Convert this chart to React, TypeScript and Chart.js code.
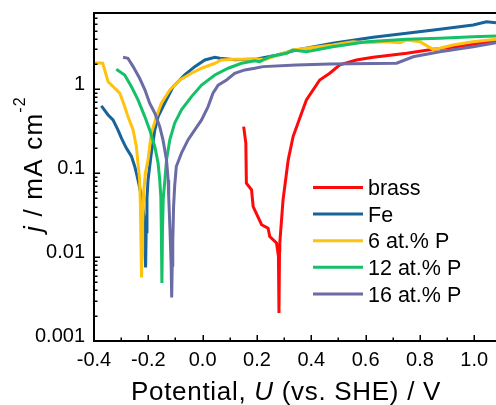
import React, { useEffect, useRef } from "react";
import { Chart, registerables } from "chart.js";

Chart.register(...registerables);

// ---- data (potential U in V vs. SHE, current density j in mA cm^-2) ----
const brassU = [0.151, 0.159, 0.161, 0.180, 0.186, 0.217, 0.241, 0.247, 0.272, 0.279, 0.281, 0.283, 0.284, 0.296, 0.315, 0.333, 0.364, 0.382, 0.431, 0.468, 0.505, 0.566, 0.628, 0.751, 0.849, 0.935, 1.08];
const brassJ = [0.359, 0.228, 0.076, 0.0633, 0.040, 0.0243, 0.0221, 0.0176, 0.0147, 0.0102, 0.00215, 0.012, 0.0147, 0.048, 0.144, 0.273, 0.518, 0.746, 1.29, 1.55, 1.95, 2.23, 2.40, 2.68, 2.99, 3.21, 3.79];

const feU = [-0.373, -0.348, -0.330, -0.312, -0.299, -0.281, -0.262, -0.250, -0.238, -0.225, -0.216, -0.212, -0.210, -0.208, -0.205, -0.201, -0.189, -0.176, -0.164, -0.140, -0.109, -0.066, -0.029, 0.008, 0.045, 0.063, 0.12, 0.20, 0.27, 0.35, 0.42, 0.479, 0.628, 0.751, 0.873, 0.996, 1.045, 1.08];
const feJ = [0.633, 0.494, 0.431, 0.328, 0.261, 0.199, 0.158, 0.120, 0.083, 0.0526, 0.03, 0.012, 0.0075, 0.02, 0.05, 0.083, 0.173, 0.328, 0.472, 0.681, 1.07, 1.48, 1.86, 2.23, 2.40, 2.34, 2.25, 2.3, 2.55, 2.95, 3.25, 3.53, 4.16, 4.64, 5.18, 5.83, 6.38, 6.21];

const p6U = [-0.397, -0.368, -0.348, -0.324, -0.305, -0.287, -0.275, -0.256, -0.244, -0.238, -0.232, -0.229, -0.227, -0.225, -0.223, -0.221, -0.217, -0.211, -0.201, -0.189, -0.170, -0.152, -0.121, -0.084, -0.041, -0.004, 0.045, 0.069, 0.118, 0.235, 0.258, 0.332, 0.382, 0.479, 0.553, 0.603, 0.677, 0.726, 0.751, 0.800, 0.848, 0.873, 0.921, 0.995, 1.08];
const p6J = [2.07, 2.04, 1.23, 1.03, 0.896, 0.621, 0.472, 0.328, 0.207, 0.131, 0.083, 0.04, 0.015, 0.0057, 0.012, 0.025, 0.06, 0.10, 0.144, 0.299, 0.472, 0.681, 0.981, 1.29, 1.55, 1.78, 2.04, 2.23, 2.28, 2.28, 2.44, 2.94, 3.08, 3.37, 3.69, 3.59, 3.69, 3.59, 3.86, 3.69, 2.99, 3.08, 3.37, 3.69, 3.94];

const p12U = [-0.318, -0.287, -0.262, -0.238, -0.213, -0.195, -0.176, -0.164, -0.158, -0.154, -0.152, -0.150, -0.148, -0.145, -0.139, -0.133, -0.121, -0.103, -0.078, -0.041, -0.004, 0.045, 0.094, 0.143, 0.192, 0.210, 0.247, 0.309, 0.332, 0.382, 0.479, 0.603, 0.751, 0.873, 0.996, 1.08];
const p12J = [1.73, 1.48, 1.07, 0.746, 0.472, 0.328, 0.207, 0.131, 0.083, 0.0526, 0.02, 0.0049, 0.02, 0.05, 0.083, 0.144, 0.249, 0.394, 0.567, 0.817, 1.12, 1.48, 1.78, 2.04, 2.19, 2.13, 2.44, 2.68, 2.94, 2.80, 3.21, 3.69, 3.94, 4.05, 4.23, 4.31];

const p16U = [-0.293, -0.275, -0.256, -0.232, -0.213, -0.195, -0.176, -0.158, -0.146, -0.133, -0.127, -0.125, -0.120, -0.116, -0.114, -0.112, -0.110, -0.107, -0.103, -0.097, -0.078, -0.054, -0.029, -0.004, 0.020, 0.038, 0.057, 0.088, 0.118, 0.155, 0.192, 0.222, 0.345, 0.468, 0.714, 0.775, 0.873, 0.996, 1.08];
const p16J = [2.40, 2.34, 1.86, 1.35, 0.99, 0.681, 0.518, 0.359, 0.249, 0.144, 0.083, 0.0526, 0.02, 0.008, 0.0033, 0.008, 0.015, 0.04, 0.07, 0.12, 0.173, 0.249, 0.328, 0.431, 0.621, 0.896, 1.12, 1.29, 1.55, 1.70, 1.78, 1.86, 1.95, 2.00, 2.04, 2.44, 2.80, 3.21, 3.59];

const seriesLabels = ["brass", "Fe", "6 at.% P", "12 at.% P", "16 at.% P"];
const seriesColors = ["#FF0A0A", "#17639A", "#FFC20E", "#14C168", "#6B6BA6"];

const xTickValues = [-0.4, -0.2, 0.0, 0.2, 0.4, 0.6, 0.8, 1.0];
const xTickLabels = ["-0.4", "-0.2", "0.0", "0.2", "0.4", "0.6", "0.8", "1.0"];
const yTickValues = [0.001, 0.01, 0.1, 1];
const yTickLabels = ["0.001", "0.01", "0.1", "1"];

const X_MIN = -0.4;
const X_MAX = 1.08;
const Y_MIN = 0.001;
const Y_MAX = 8.1;

const FONT = '"Liberation Sans", Arial, Helvetica, sans-serif';

const toPoints = (u: number[], j: number[]) => u.map((x, i) => ({ x, y: j[i] }));

const decorPlugin = {
  id: "decor",
  afterDatasetsDraw(chart: any) {
    const { ctx, chartArea: a, scales } = chart;
    const xs = scales.x;
    const ys = scales.y;
    ctx.save();
    ctx.strokeStyle = "#000";
    ctx.fillStyle = "#000";
    ctx.lineWidth = 2;
    ctx.lineCap = "butt";
    // frame: left, bottom, top
    ctx.beginPath();
    ctx.moveTo(a.left, a.top);
    ctx.lineTo(a.left, a.bottom + 1);
    ctx.moveTo(a.left - 1, a.bottom);
    ctx.lineTo(a.right, a.bottom);
    ctx.moveTo(a.left - 1, a.top);
    ctx.lineTo(a.right, a.top);
    ctx.stroke();

    // y ticks (inward), major + minor
    ctx.lineWidth = 1.5;
    ctx.beginPath();
    for (let d = -3; d <= 0; d++) {
      for (let m = 1; m <= 9; m++) {
        const v = m * Math.pow(10, d);
        if (v > Y_MAX || v < Y_MIN) continue;
        const py = Math.round(ys.getPixelForValue(v)) + 0.25;
        const len = m === 1 ? 6 : 3.5;
        ctx.moveTo(a.left, py);
        ctx.lineTo(a.left + len, py);
      }
    }
    // x ticks (inward)
    for (let i = -4; i <= 10; i++) {
      const v = i / 10;
      const px = Math.round(xs.getPixelForValue(v)) + 0.25;
      const len = i % 2 === 0 ? 6 : 3.5;
      ctx.moveTo(px, a.bottom);
      ctx.lineTo(px, a.bottom - len);
    }
    ctx.stroke();

    // tick labels
    ctx.font = `20px ${FONT}`;
    ctx.textBaseline = "alphabetic";
    ctx.textAlign = "right";
    yTickValues.forEach((v, i) => {
      const py = ys.getPixelForValue(v);
      ctx.fillText(yTickLabels[i], 85, py + 1);
    });
    ctx.textAlign = "center";
    xTickValues.forEach((v, i) => {
      const px = xs.getPixelForValue(v);
      ctx.fillText(xTickLabels[i], px, 366);
    });

    // x title with italic U
    const xParts = [
      { t: "Potential, ", f: `26px ${FONT}` },
      { t: "U", f: `italic 26px ${FONT}` },
      { t: " (vs. SHE) / V", f: `26px ${FONT}` },
    ];
    (ctx as any).letterSpacing = "0.7px";
    let total = 0;
    xParts.forEach((p) => {
      ctx.font = p.f;
      total += ctx.measureText(p.t).width;
    });
    let cx = 286 - total / 2;
    ctx.textAlign = "left";
    xParts.forEach((p) => {
      ctx.font = p.f;
      ctx.fillText(p.t, cx, 400);
      cx += ctx.measureText(p.t).width;
    });

    // y title rotated: j / mA cm^-2
    const yParts = [
      { t: "j", f: `italic 26px ${FONT}`, dy: 0 },
      { t: " / mA cm", f: `26px ${FONT}`, dy: 0 },
      { t: "-2", f: `16px ${FONT}`, dy: -17 },
    ];
    (ctx as any).letterSpacing = "1.2px";
    total = 0;
    yParts.forEach((p) => {
      ctx.font = p.f;
      total += ctx.measureText(p.t).width;
    });
    ctx.save();
    ctx.translate(42, 164);
    ctx.rotate(-Math.PI / 2);
    let yx = -total / 2;
    yParts.forEach((p) => {
      ctx.font = p.f;
      ctx.fillText(p.t, yx, p.dy);
      yx += ctx.measureText(p.t).width;
    });
    ctx.restore();
    (ctx as any).letterSpacing = "0px";

    // legend
    ctx.font = `21.5px ${FONT}`;
    ctx.textAlign = "left";
    const rows = [187.5, 214, 240.7, 267.3, 294];
    chart.data.datasets.forEach((ds: any, i: number) => {
      const y = rows[i];
      ctx.strokeStyle = ds.borderColor;
      ctx.lineWidth = 3;
      ctx.beginPath();
      ctx.moveTo(313, y);
      ctx.lineTo(363, y);
      ctx.stroke();
      ctx.fillStyle = "#000";
      ctx.fillText(ds.label, 368, y + 7.5);
    });
    ctx.restore();
  },
};

export default function App() {
  const ref = useRef<HTMLCanvasElement | null>(null);
  useEffect(() => {
    if (!ref.current) return;
    const series = [
      toPoints(brassU, brassJ),
      toPoints(feU, feJ),
      toPoints(p6U, p6J),
      toPoints(p12U, p12J),
      toPoints(p16U, p16J),
    ];
    const chart = new Chart(ref.current, {
      type: "line",
      data: {
        datasets: series.map((d, i) => ({
          label: seriesLabels[i],
          data: d,
          borderColor: seriesColors[i],
          backgroundColor: seriesColors[i],
          borderWidth: 3,
          pointRadius: 0,
          tension: 0,
          fill: false,
          order: 4 - i,
        })),
      },
      options: {
        responsive: false,
        animation: false,
        devicePixelRatio: 1,
        layout: { padding: { left: 94, top: 13, right: 0, bottom: 64 } },
        plugins: { legend: { display: false }, tooltip: { enabled: false } },
        scales: {
          x: { type: "linear", min: X_MIN, max: X_MAX, display: false },
          y: { type: "logarithmic", min: Y_MIN, max: Y_MAX, display: false },
        },
      },
      plugins: [decorPlugin],
    });
    return () => chart.destroy();
  }, []);
  return (
    <div style={{ position: "fixed", left: 0, top: 0, width: 496, height: 405, background: "#fff" }}>
      <canvas ref={ref} width={496} height={405} style={{ display: "block" }} />
    </div>
  );
}
